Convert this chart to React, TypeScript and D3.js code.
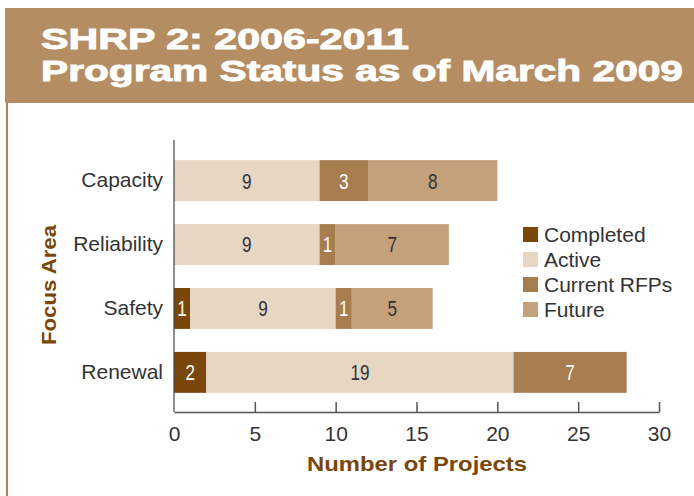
import React, { useEffect, useRef } from 'react'
import * as d3 from 'd3'

const categories = ['Capacity', 'Reliability', 'Safety', 'Renewal']
const seriesNames = ['Completed', 'Active', 'Current RFPs', 'Future']
const completed = [0, 0, 1, 2]
const active = [9, 9, 9, 19]
const currentRFPs = [3, 1, 1, 7]
const future = [8, 7, 5, 0]
const xTicks = [0, 5, 10, 15, 20, 25, 30]

const colors = ['#7a4609', '#e7d6c3', '#a77c4e', '#c4a07b']
const labelColors = ['#ffffff', '#333333', '#ffffff', '#333333']

export default function App() {
  const ref = useRef<SVGSVGElement>(null)

  useEffect(() => {
    const svg = d3.select(ref.current)
    svg.selectAll('*').remove()

    const W = 694, H = 496
    const left = 174, right = 659, axisY = 412
    const font = 'Liberation Sans, Arial, sans-serif'

    // banner
    svg.append('rect').attr('x', 5).attr('y', 8).attr('width', W - 5).attr('height', 95).attr('fill', '#b58d63')
    svg.append('line').attr('x1', 7).attr('x2', 7).attr('y1', 103).attr('y2', H)
      .attr('stroke', '#8a5a22').attr('stroke-width', 1.5)
    const title = svg.append('text').attr('fill', '#fff').attr('stroke', '#fff').attr('stroke-width', 0.9)
      .attr('font-family', font).attr('font-weight', 'bold').attr('font-size', 29)
    title.append('tspan').attr('x', 41).attr('y', 49).attr('textLength', 368)
      .attr('lengthAdjust', 'spacingAndGlyphs').text('SHRP 2: 2006-2011')
    title.append('tspan').attr('x', 41).attr('y', 81).attr('textLength', 642)
      .attr('lengthAdjust', 'spacingAndGlyphs').text('Program Status as of March 2009')

    const x = d3.scaleLinear().domain([0, 30]).range([left, right])
    const y = d3.scaleBand().domain(categories).range([141, 412]).paddingInner(0.36).paddingOuter(0.3)

    const rows = categories.map((c, i) => ({
      cat: c,
      Completed: completed[i], Active: active[i], 'Current RFPs': currentRFPs[i], Future: future[i],
    }))
    const stacked = d3.stack<any>().keys(seriesNames)(rows)

    stacked.forEach((layer, k) => {
      const g = svg.append('g')
      layer.forEach((d, i) => {
        const v = d[1] - d[0]
        if (v <= 0) return
        const yy = y(categories[i])!
        g.append('rect').attr('x', x(d[0])).attr('y', yy)
          .attr('width', x(d[1]) - x(d[0])).attr('height', y.bandwidth())
          .attr('fill', colors[k])
        g.append('text')
          .attr('transform', `translate(${(x(d[0]) + x(d[1])) / 2},${yy + y.bandwidth() / 2}) scale(0.78,1)`)
          .attr('dy', '0.36em').attr('text-anchor', 'middle')
          .attr('font-family', font).attr('font-size', 22)
          .attr('fill', labelColors[k]).text(v)
      })
    })

    // axes
    const xAxis = svg.append('g').attr('transform', `translate(0,${axisY})`)
      .call(d3.axisBottom(x).tickValues(xTicks).tickSize(0).tickPadding(14).tickSizeOuter(0))
    xAxis.select('.domain').attr('stroke', '#555').attr('stroke-width', 1.5)
    xAxis.selectAll('.tick text').attr('font-family', font).attr('font-size', 21).attr('fill', '#333')
    xAxis.selectAll('.tick').append('line').attr('y1', 0).attr('y2', -10).attr('stroke', '#555').attr('stroke-width', 1.5)
      .filter((d: any) => d === 0).remove()

    const yAxis = svg.append('g').attr('transform', `translate(${left},0)`)
      .call(d3.axisLeft(y).tickSize(0).tickPadding(11))
    yAxis.select('.domain').attr('d', `M0,140V${axisY}`).attr('stroke', '#444').attr('stroke-width', 1.2)
    yAxis.selectAll('.tick text').attr('font-family', font).attr('font-size', 21).attr('fill', '#333')

    svg.append('text').attr('x', 307).attr('y', 471)
      .attr('font-family', font).attr('font-weight', 'bold').attr('font-size', 20).attr('fill', '#7a4609')
      .attr('textLength', 220).attr('lengthAdjust', 'spacingAndGlyphs')
      .text('Number of Projects')
    svg.append('text').attr('transform', 'translate(56,345) rotate(-90)')
      .attr('font-family', font).attr('font-weight', 'bold').attr('font-size', 21).attr('fill', '#7a4609')
      .attr('textLength', 120).attr('lengthAdjust', 'spacingAndGlyphs')
      .text('Focus Area')

    // legend
    const lg = svg.append('g').attr('transform', 'translate(523,227)')
    seriesNames.forEach((s, i) => {
      lg.append('rect').attr('x', 0).attr('y', i * 25).attr('width', 15).attr('height', 15).attr('fill', colors[i])
      lg.append('text').attr('x', 21).attr('y', i * 25 + 7.5).attr('dy', '0.36em')
        .attr('font-family', font).attr('font-size', 21).attr('fill', '#333').text(s)
    })
  }, [])

  return (
    <svg ref={ref} width={694} height={496} style={{ position: 'absolute', left: 0, top: 0, background: '#fff' }} />
  )
}
